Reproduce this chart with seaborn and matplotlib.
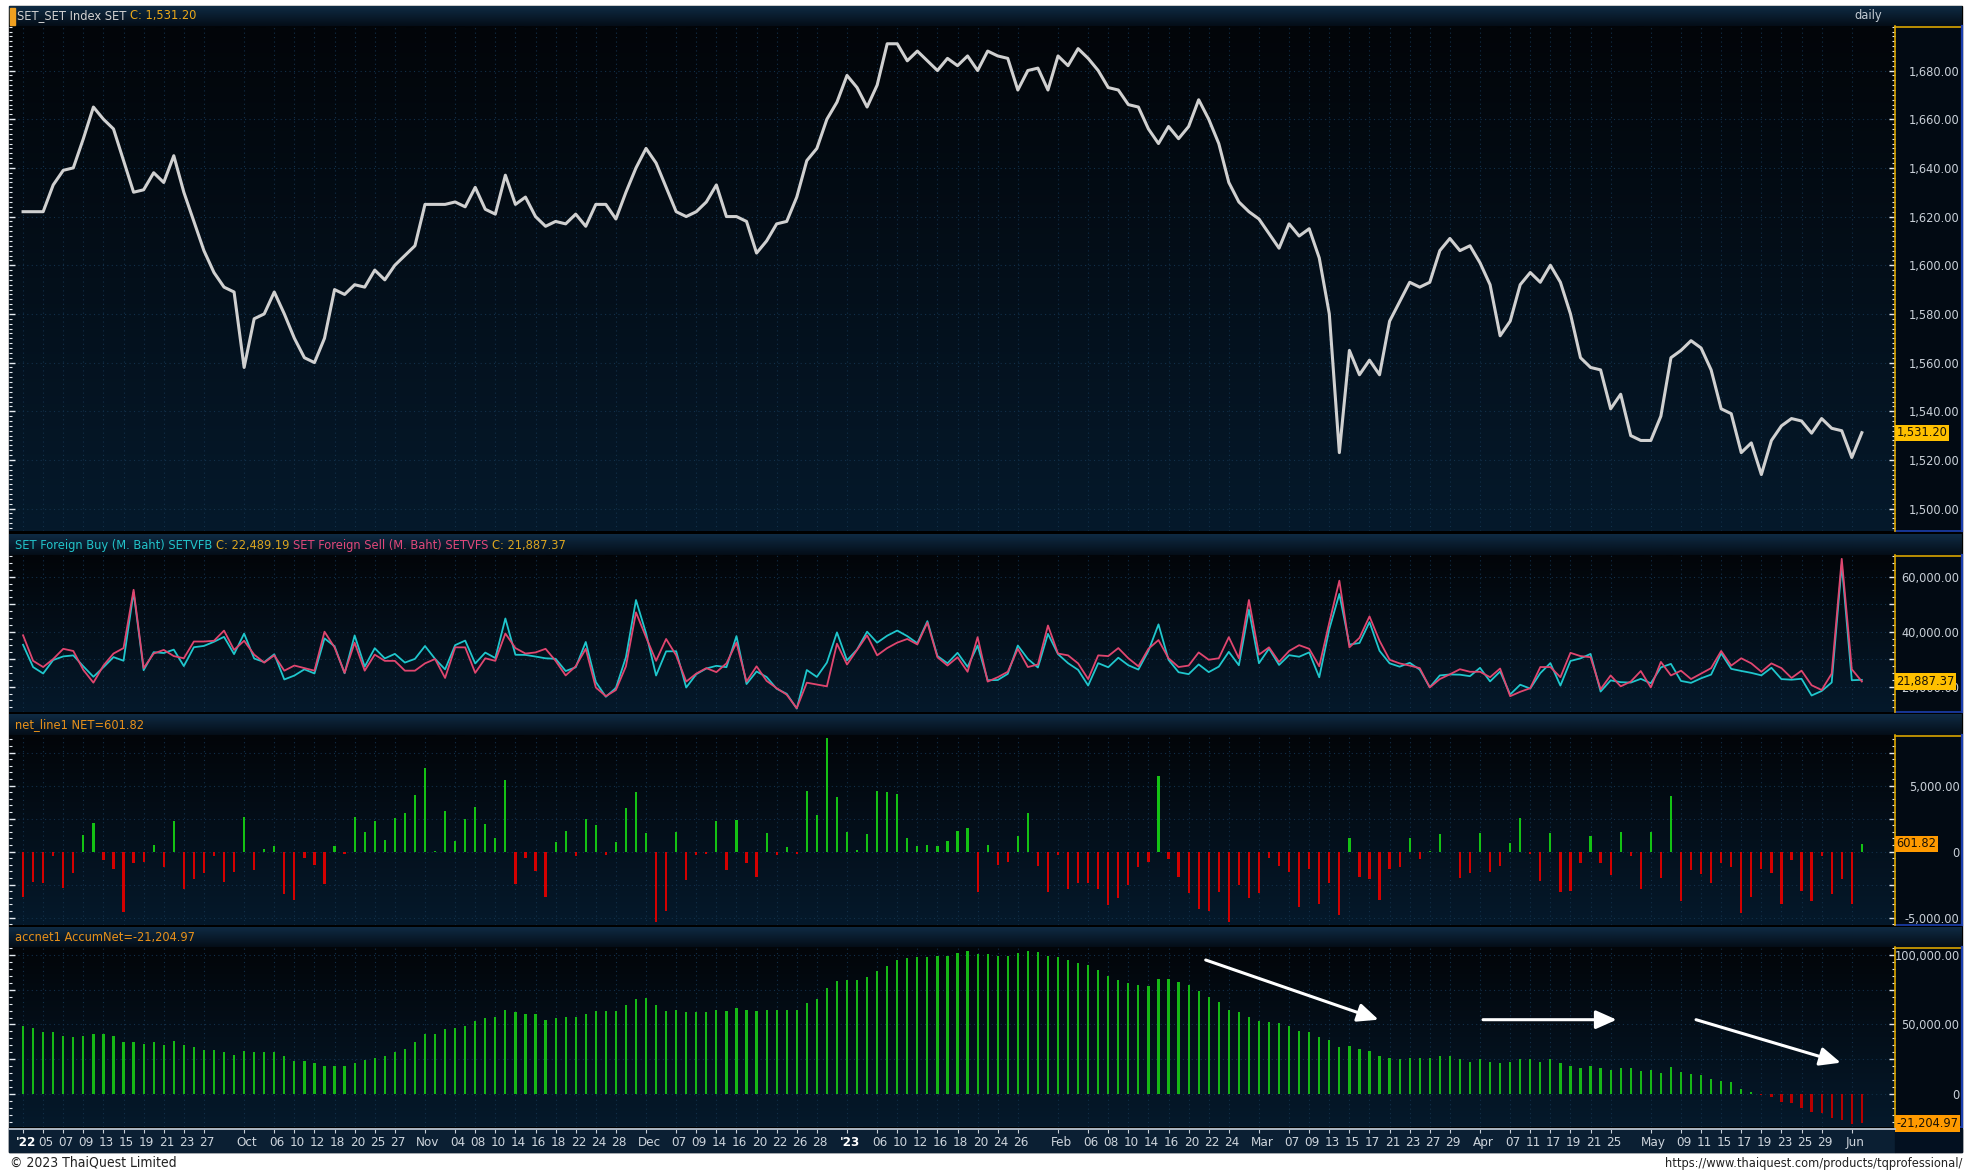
import numpy as np
import pandas as pd
import matplotlib
matplotlib.use("Agg")
import matplotlib.pyplot as plt
import matplotlib.ticker as mticker
import matplotlib.transforms as mtrans
from matplotlib import font_manager as fm
from matplotlib.patches import Rectangle
import seaborn as sns

# ---------------- data ----------------
holidays = ["2022-10-13", "2022-10-14", "2022-10-24", "2022-12-05", "2022-12-12",
            "2023-01-02", "2023-03-06", "2023-04-06", "2023-04-13", "2023-04-14",
            "2023-05-01", "2023-05-04", "2023-05-05"]
trade_days = pd.bdate_range("2022-09-01", "2023-06-02")
trade_days = trade_days[~trade_days.isin(pd.to_datetime(holidays))]

set_close = [
    1622, 1622, 1622, 1633, 1639, 1640, 1652, 1665, 1660, 1656,
    1643, 1630, 1631, 1638, 1634, 1645, 1630, 1618, 1606, 1597,
    1591, 1589, 1558, 1578, 1580, 1589, 1580, 1570, 1562, 1560,
    1570, 1590, 1588, 1592, 1591, 1598, 1594, 1600, 1604, 1608,
    1625, 1625, 1625, 1626, 1624, 1632, 1623, 1621, 1637, 1625,
    1628, 1620, 1616, 1618, 1617, 1621, 1616, 1625, 1625, 1619,
    1630, 1640, 1648, 1642, 1632, 1622, 1620, 1622, 1626, 1633,
    1620, 1620, 1618, 1605, 1610, 1617, 1618, 1628, 1643, 1648,
    1660, 1667, 1678, 1673, 1665, 1674, 1691, 1691, 1684, 1688,
    1684, 1680, 1685, 1682, 1686, 1680, 1688, 1686, 1685, 1672,
    1680, 1681, 1672, 1686, 1682, 1689, 1685, 1680, 1673, 1672,
    1666, 1665, 1656, 1650, 1657, 1652, 1657, 1668, 1660, 1650,
    1634, 1626, 1622, 1619, 1613, 1607, 1617, 1612, 1615, 1603,
    1580, 1523, 1565, 1555, 1561, 1555, 1577, 1585, 1593, 1591,
    1593, 1606, 1611, 1606, 1608, 1601, 1592, 1571, 1577, 1592,
    1597, 1593, 1600, 1593, 1580, 1562, 1558, 1557, 1541, 1547,
    1530, 1528, 1528, 1538, 1562, 1565, 1569, 1566, 1557, 1541,
    1539, 1523, 1527, 1514, 1528, 1534, 1537, 1536, 1531, 1537,
    1533, 1532, 1521, 1531.20]

foreign_sell = [
    38700, 29400, 27150, 30070, 33780, 32990, 26100, 21460, 27700, 32060,
    34050, 55250, 26760, 32060, 33380, 31130, 30340, 36430, 36430, 36700,
    40400, 33380, 36700, 31660, 28750, 31400, 25830, 27700, 26760, 25830,
    40000, 34300, 25030, 36030, 25830, 31660, 29400, 29400, 25830, 25830,
    28480, 30070, 23180, 34310, 34310, 25030, 30340, 29400, 39350, 34050,
    32060, 32460, 33780, 29400, 24100, 27420, 33780, 19730, 16550, 18800,
    27420, 47030, 38020, 29400, 37360, 31400, 21860, 24770, 26760, 25300,
    28480, 36030, 21860, 27420, 22120, 19470, 17090, 12180, 21460, 20800,
    20130, 35640, 28080, 33380, 38680, 31400, 34050, 36030, 37360, 35370,
    43320, 30730, 27700, 30730, 25430, 38020, 21860, 23450, 25430, 33780,
    27150, 28080, 42260, 32060, 31400, 28480, 22780, 31400, 31130, 34050,
    30340, 27420, 33780, 36960, 30340, 27150, 27680, 32460, 29800, 30340,
    38020, 30340, 51540, 31660, 34310, 29010, 32990, 35100, 33780, 27420,
    43320, 58560, 34310, 37760, 45570, 36700, 29800, 28480, 27680, 26760,
    19730, 22780, 24510, 26360, 25430, 25430, 23450, 26620, 16550, 18150,
    19470, 27150, 27150, 23450, 32320, 31130, 30730, 19070, 24100, 20130,
    21860, 25700, 19730, 29010, 24100, 25830, 22780, 24770, 26760, 32990,
    27680, 30340, 28480, 25430, 28480, 26760, 23180, 25830, 20530, 18800,
    24770, 66510, 26360, 21887.37]

foreign_net = [
    -3450, -2260, -2350, -360, -2760, -1600, 1300, 2150, -630, -1300,
    -4600, -880, -750, 500, -1130, 2350, -2840, -2070, -1600, -360,
    -2260, -1520, 2620, -1400, 190, 410, -3200, -3640, -440, -1020,
    -2430, 410, -140, 2620, 1460, 2350, 880, 2540, 2950, 4280,
    6320, 60, 3120, 800, 2460, 3420, 2070, 1020, 5460, -2430,
    -500, -1490, -3450, 750, 1600, -360, 2480, 1990, -220, 750,
    3310, 4500, 1410, -5330, -4500, 1490, -2150, -220, -140, 2290,
    -1380, 2370, -880, -1880, 1410, -220, 330, -140, 4610, 2760,
    8640, 4110, 1490, 140, 1320, 4610, 4500, 4390, 1020, 440,
    520, 440, 830, 1600, 1790, -3040, 500, -1020, -750, 1190,
    2950, -1100, -3040, -220, -2840, -2350, -2350, -2840, -4060, -3510,
    -2540, -1190, -750, 5710, -550, -1880, -3120, -4360, -4500, -3040,
    -5330, -2540, -3510, -3120, -440, -1100, -1520, -4200, -1300, -4000,
    -2350, -4830, 1020, -1880, -2070, -3640, -1300, -1190, 1020, -550,
    60, 1320, -60, -1990, -1600, 1430, -1520, -1100, 630, 2570,
    -140, -2210, 1430, -3040, -2950, -830, 1190, -830, -1790, 1520,
    -360, -2840, 1520, -1990, 4200, -3730, -1380, -1710, -2350, -830,
    -1190, -4610, -3450, -1300, -1600, -4000, -630, -2950, -3730, -360,
    -3230, -2070, -4000, 601.82]

accum_net = [
    49260, 47420, 44540, 44540, 41660, 40870, 41660, 43490, 43490, 41660,
    37730, 37200, 36160, 37200, 35110, 37990, 35110, 33540, 31700, 31700,
    29870, 28300, 30920, 29870, 29870, 29870, 27250, 23580, 23580, 22530,
    19910, 19910, 19910, 22530, 24370, 26200, 27250, 29870, 32490, 37200,
    42970, 42970, 46640, 47420, 49260, 52660, 54500, 55280, 60520, 58690,
    57900, 57380, 53450, 54500, 55280, 55280, 57900, 60000, 60000, 60000,
    63670, 68120, 69170, 63670, 60000, 60780, 58950, 58950, 58950, 60780,
    60000, 61830, 60780, 60000, 60780, 60780, 60780, 60780, 65500, 68120,
    76500, 80960, 82000, 82000, 83840, 88560, 92220, 96680, 97730, 98510,
    98510, 99560, 99560, 101650, 103200, 100870, 100870, 99560, 99560, 101130,
    103200, 102180, 99560, 98510, 96680, 94320, 92490, 89340, 84630, 82000,
    79650, 78600, 77810, 82790, 82790, 80700, 78340, 73880, 69430, 66290,
    60780, 58950, 55280, 52660, 51880, 50830, 49260, 45330, 44540, 40870,
    38780, 33540, 34580, 32490, 30920, 27250, 26200, 25410, 25940, 25940,
    25940, 26990, 26990, 25150, 23320, 25150, 23320, 22270, 23320, 25150,
    25150, 23320, 25150, 22270, 19910, 18860, 19910, 18860, 17030, 18860,
    18860, 16240, 17030, 14930, 19650, 15980, 14150, 13360, 10480, 9690,
    8650, 3930, 1310, -500, -2200, -6000, -6800, -9800, -13300, -13800,
    -17000, -19000, -21800, -21204.97]

# foreign buy = foreign sell + net
foreign_buy = list(np.round(np.array(foreign_sell) + np.array(foreign_net), 2))

tick_dates = [
    "2022-09-01", "2022-09-05", "2022-09-07", "2022-09-09", "2022-09-13", "2022-09-15",
    "2022-09-19", "2022-09-21", "2022-09-23", "2022-09-27",
    "2022-10-03", "2022-10-06", "2022-10-10", "2022-10-12", "2022-10-18", "2022-10-20",
    "2022-10-25", "2022-10-27",
    "2022-11-01", "2022-11-04", "2022-11-08", "2022-11-10", "2022-11-14", "2022-11-16",
    "2022-11-18", "2022-11-22", "2022-11-24", "2022-11-28",
    "2022-12-01", "2022-12-07", "2022-12-09", "2022-12-14", "2022-12-16", "2022-12-20",
    "2022-12-22", "2022-12-26", "2022-12-28",
    "2023-01-03", "2023-01-06", "2023-01-10", "2023-01-12", "2023-01-16", "2023-01-18",
    "2023-01-20", "2023-01-24", "2023-01-26",
    "2023-02-01", "2023-02-06", "2023-02-08", "2023-02-10", "2023-02-14", "2023-02-16",
    "2023-02-20", "2023-02-22", "2023-02-24",
    "2023-03-01", "2023-03-07", "2023-03-09", "2023-03-13", "2023-03-15", "2023-03-17",
    "2023-03-21", "2023-03-23", "2023-03-27", "2023-03-29",
    "2023-04-03", "2023-04-07", "2023-04-11", "2023-04-17", "2023-04-19", "2023-04-21",
    "2023-04-25",
    "2023-05-02", "2023-05-09", "2023-05-11", "2023-05-15", "2023-05-17", "2023-05-19",
    "2023-05-23", "2023-05-25", "2023-05-29",
    "2023-06-01"]
tick_labels = [
    "'22", "05", "07", "09", "13", "15", "19", "21", "23", "27",
    "Oct", "06", "10", "12", "18", "20", "25", "27",
    "Nov", "04", "08", "10", "14", "16", "18", "22", "24", "28",
    "Dec", "07", "09", "14", "16", "20", "22", "26", "28",
    "'23", "06", "10", "12", "16", "18", "20", "24", "26",
    "Feb", "06", "08", "10", "14", "16", "20", "22", "24",
    "Mar", "07", "09", "13", "15", "17", "21", "23", "27", "29",
    "Apr", "07", "11", "17", "19", "21", "25",
    "May", "09", "11", "15", "17", "19", "23", "25", "29",
    "Jun"]

# white trend arrows on the accumulated panel: (start, end) in (day index, value)
trend_arrows = [((117.7, 96400), (134.9, 53450)),
                ((145.3, 53450), (158.6, 53450)),
                ((166.5, 53450), (180.9, 22530))]

day_idx = np.arange(len(trade_days))
tick_pos = [trade_days.get_loc(pd.Timestamp(d)) for d in tick_dates]

df = pd.DataFrame({"day": day_idx, "close": set_close, "buy": foreign_buy,
                   "sell": foreign_sell, "net": foreign_net, "accum": accum_net})
df["net_side"] = np.where(df["net"] >= 0, "pos", "neg")
df["acc_side"] = np.where(df["accum"] >= 0, "pos", "neg")


# ---------------- fonts: prefer a narrow face like the terminal uses ----------------
def pick_font():
    for fam, stretch in [("Liberation Sans Narrow", "normal"),
                         ("Liberation Sans", "condensed"),
                         ("DejaVu Sans", "condensed")]:
        try:
            path = fm.findfont(fm.FontProperties(family=fam, stretch=stretch),
                               fallback_to_default=False)
        except ValueError:
            continue
        if fam == "Liberation Sans Narrow" or "Narrow" in path or "Condensed" in path:
            return fam, stretch, 9.2
    return "Liberation Sans", "normal", 8.5


FAM, STRETCH, FS = pick_font()
plt.rcParams["font.family"] = [FAM, "DejaVu Sans"]
plt.rcParams["font.stretch"] = STRETCH

W, H = 1974, 1171
fig = plt.figure(figsize=(W / 100, H / 100), dpi=100, facecolor="white")

bg = fig.add_axes([0, 0, 1, 1])
bg.axis("off")


def vgrad(x0, x1, y0, y1, c_top, c_bot, z=1):
    top = np.array(matplotlib.colors.to_rgb(c_top))
    bot = np.array(matplotlib.colors.to_rgb(c_bot))
    t = np.linspace(0, 1, 128)[:, None]
    img = (top * (1 - t) + bot * t)[:, None, :]
    bg.imshow(img, extent=(x0, x1, y1, y0), aspect="auto", origin="upper",
              zorder=z, interpolation="bilinear")


X0, XP, XR = 9, 1895, 1962
plots = [(26, 531), (555, 712), (735, 925), (947, 1127)]
bars = [(6, 26), (534, 555), (714, 735), (927, 947)]

bg.add_patch(Rectangle((X0, 6), XR - X0, 1152 - 6, color="#000000", zorder=0))
for (y0, y1) in bars:
    vgrad(X0, XR, y0, y1, "#0f2b44", "#040d17")
for (y0, y1) in plots:
    vgrad(X0, XP, y0, y1, "#020509", "#05192b")
    bg.add_patch(Rectangle((XP, y0), XR - XP, y1 - y0, facecolor="#020a13",
                           edgecolor="none", zorder=2))
    bg.plot([XP, XR], [y0 + 0.5, y0 + 0.5], color="#d9a400", lw=1.2, zorder=3)
    bg.plot([XR, XR], [y0, y1], color="#1c3fae", lw=1.6, zorder=3)
    bg.plot([XP, XR], [y1, y1], color="#1c3fae", lw=1.2, zorder=3)

# x axis band
bg.add_patch(Rectangle((X0, 1129), XP - X0, 23, color="#0b1f33", zorder=2))
bg.add_patch(Rectangle((XP, 1129), XR - XP, 23, color="#031020", zorder=2))
bg.add_patch(Rectangle((10, 8), 5, 17, color="#f0a020", zorder=4))
bg.set_xlim(0, W)
bg.set_ylim(H, 0)


def rainbow(x, y, parts, size=FS):
    t = bg.text(x, y, parts[0][0], color=parts[0][1], fontsize=size,
                va="center", ha="left", zorder=5)
    for s, c in parts[1:]:
        t = bg.annotate(s, xy=(1, 0.5), xycoords=t, va="center", ha="left",
                        color=c, fontsize=size, zorder=5)


gold = "#dba520"
rainbow(17, 16, [("SET_SET Index SET ", "#d2d2d2"), ("C: 1,531.20", "#e9a81a")])
rainbow(15, 545, [("SET Foreign Buy (M. Baht) SETVFB ", "#22c3c9"),
                  ("C: 22,489.19 ", gold),
                  ("SET Foreign Sell (M. Baht) SETVFS ", "#e0487a"),
                  ("C: 21,887.37", gold)])
rainbow(15, 725, [("net_line1 NET=601.82", "#e8911a")])
rainbow(15, 937, [("accnet1 AccumNet=-21,204.97", "#e8911a")])
bg.text(1882, 16, "daily", color="#c4ccd4", fontsize=FS, ha="right", va="center", zorder=5)
bg.text(10, 1162, "\u00a9 2023 ThaiQuest Limited", color="#222222", fontsize=FS + 0.8,
        ha="left", va="center")
bg.text(1962, 1163, "https://www.thaiquest.com/products/tqprofessional/", color="#222222",
        fontsize=FS, ha="right", va="center")

XLIM = (-1.4, 186.3)


def make_axes(y0, y1):
    return fig.add_axes([X0 / W, 1 - y1 / H, (XP - X0) / W, (y1 - y0) / H])


def style(ax, ylim, major, minor, label_step):
    ax.set_facecolor("none")
    ax.set_xlim(*XLIM)
    ax.set_ylim(*ylim)
    ax.set_xlabel("")
    ax.set_ylabel("")
    for s in ["top", "bottom", "left"]:
        ax.spines[s].set_visible(False)
    ax.spines["right"].set_color("#d9a400")
    ax.spines["right"].set_linewidth(1.2)
    ax.set_xticks(tick_pos)
    ax.tick_params(axis="x", length=0, labelbottom=False)
    ax.yaxis.set_major_locator(mticker.MultipleLocator(major))
    ax.yaxis.set_minor_locator(mticker.MultipleLocator(minor))

    def fmt(v, pos):
        if abs(v) < 1e-9:
            return "0"
        if abs(v / label_step - round(v / label_step)) > 1e-6:
            return ""
        return f"{v:,.2f}"

    ax.yaxis.set_major_formatter(mticker.FuncFormatter(fmt))
    ax.tick_params(axis="y", which="both", left=True, right=True, labelleft=False,
                   labelright=True, direction="in", color="#e6ecf2",
                   labelcolor="#c9d0d8", labelsize=FS, pad=46.5)
    ax.tick_params(axis="y", which="major", length=4.5, width=1)
    ax.tick_params(axis="y", which="minor", length=2.2, width=0.8)
    for tk in ax.yaxis.get_major_ticks():
        tk.label2.set_horizontalalignment("right")
    ax.grid(True, axis="both", which="major", color="#12304a",
            linestyle=(0, (1, 3)), linewidth=0.8)
    ax.set_axisbelow(True)


def value_tag(ax, y, text, fc):
    tr = mtrans.blended_transform_factory(ax.transAxes, ax.transData)
    ax.text(1.0008, y, text, transform=tr, ha="left", va="center", fontsize=FS,
            color="#1a1206", clip_on=False, zorder=20,
            bbox=dict(boxstyle="square,pad=0.12", fc=fc, ec="none"))


# panel 1: SET index
ax1 = make_axes(*plots[0])
sns.lineplot(data=df, x="day", y="close", ax=ax1, color="#d0d0d0", linewidth=2.2)
style(ax1, (1490.8, 1698.3), 20, 2, 20)
value_tag(ax1, set_close[-1], "1,531.20", "#ffc000")

# panel 2: foreign buy / sell
ax2 = make_axes(*plots[1])
sns.lineplot(data=df, x="day", y="buy", ax=ax2, color="#1fc6cc", linewidth=1.3)
sns.lineplot(data=df, x="day", y="sell", ax=ax2, color="#e0466f", linewidth=1.3)
style(ax2, (10800, 67900), 10000, 2500, 20000)
value_tag(ax2, foreign_sell[-1], "21,887.37", "#ffc000")

# panel 3: net
ax3 = make_axes(*plots[2])
sns.barplot(data=df, x="day", y="net", hue="net_side", ax=ax3, native_scale=True,
            palette={"pos": "#14c214", "neg": "#d40000"}, width=0.22, dodge=False,
            saturation=1, errorbar=None, legend=False, linewidth=0)
style(ax3, (-5553, 8840), 2500, 500, 5000)
value_tag(ax3, foreign_net[-1], "601.82", "#ff9a00")

# panel 4: accumulated net
ax4 = make_axes(*plots[3])
sns.barplot(data=df, x="day", y="accum", hue="acc_side", ax=ax4, native_scale=True,
            palette={"pos": "#16b816", "neg": "#b80000"}, width=0.22, dodge=False,
            saturation=1, errorbar=None, legend=False, linewidth=0)
style(ax4, (-23740, 105750), 25000, 5000, 50000)
value_tag(ax4, accum_net[-1], "-21,204.97", "#ff9a00")
for start, end in trend_arrows:
    ax4.annotate("", xy=end, xytext=start,
                 arrowprops=dict(arrowstyle="-|>,head_length=0.9,head_width=0.4",
                                 color="white", lw=2.2, mutation_scale=14,
                                 shrinkA=0, shrinkB=0))

# x axis band
axx = fig.add_axes([X0 / W, 1 - 1152 / H, (XP - X0) / W, 23 / H])
axx.set_facecolor("none")
axx.set_xlim(*XLIM)
axx.set_ylim(0, 1)
for s in ["bottom", "left", "right"]:
    axx.spines[s].set_visible(False)
axx.spines["top"].set_color("#aeb8c4")
axx.spines["top"].set_linewidth(1.4)
axx.set_xticks(tick_pos)
axx.set_yticks([])
axx.tick_params(axis="x", top=True, bottom=False, labelbottom=False, direction="in",
                length=3, color="#c8d0d8")
xtr = axx.get_xaxis_transform()
for p, lab in zip(tick_pos, tick_labels):
    bold = lab.startswith("'")
    axx.text(p + 0.3, 0.42, lab, transform=xtr, ha="center", va="center",
             fontsize=FS + 0.4, color="#ffffff" if bold else "#cdd4dc",
             fontweight="bold" if bold else "normal")

fig.savefig("out.png", dpi=100, facecolor=fig.get_facecolor())
